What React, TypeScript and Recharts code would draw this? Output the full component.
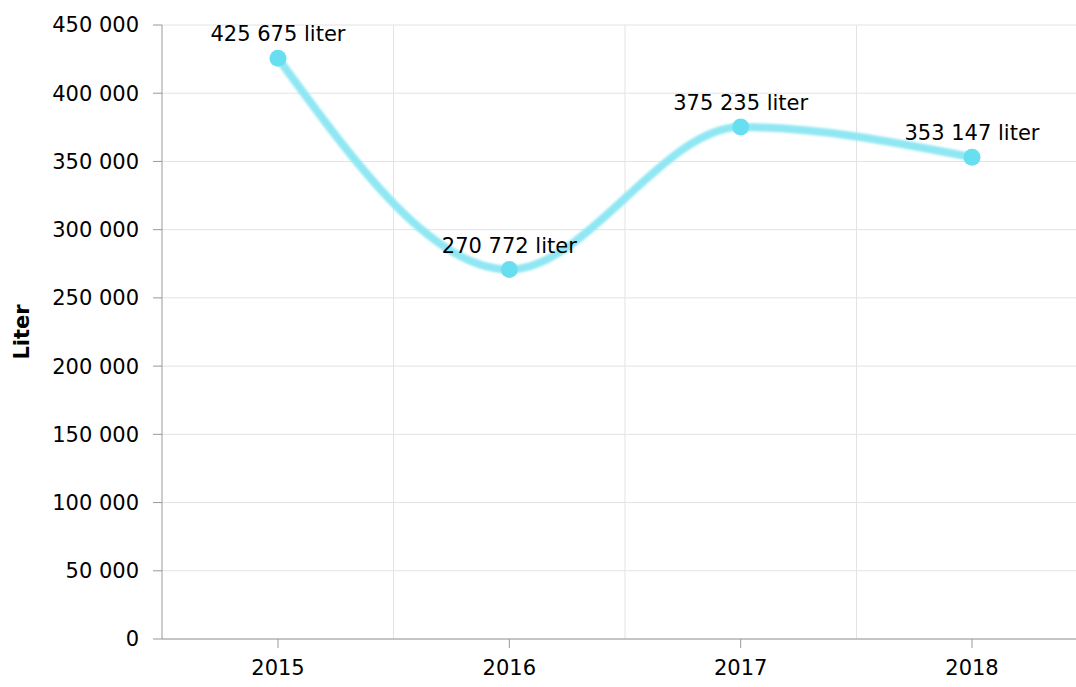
import { LineChart, Line, CartesianGrid, XAxis, YAxis, LabelList } from "recharts";

const years = ["2015", "2016", "2017", "2018"];
const liters = [425675, 270772, 375235, 353147];
const yTicks = [0, 50000, 100000, 150000, 200000, 250000, 300000, 350000, 400000, 450000];

const data = years.map((year, i) => ({ year, liters: liters[i] }));

const FONT = "'DejaVu Sans', Verdana, sans-serif";
const spaced = (n: number) => String(n).replace(/\B(?=(\d{3})+(?!\d))/g, " ");

function YTitle({ viewBox }: any) {
  const cy = viewBox.y + viewBox.height / 2;
  return (
    <text
      x={22}
      y={cy}
      transform={`rotate(-90, 22, ${cy})`}
      textAnchor="middle"
      dominantBaseline="central"
      fontFamily={FONT}
      fontSize={21}
      fontWeight="bold"
      fill="#000"
    >
      Liter
    </text>
  );
}

export default function App() {
  return (
    <div style={{ position: "absolute", left: 0, top: 0, width: 1076, height: 687, overflow: "hidden", background: "#fff" }}>
      <LineChart width={1100} height={687} data={data} margin={{ top: 25, right: 12, bottom: 0, left: 0 }}>
        <defs>
          <filter id="soft" x="-10%" y="-10%" width="120%" height="120%">
            <feGaussianBlur stdDeviation="1.3" />
          </filter>
        </defs>
        <CartesianGrid
          stroke="#e3e3e3"
          verticalCoordinatesGenerator={({ offset }: any) =>
            years.slice(1).map((_, i) => offset.left + ((i + 1) * offset.width) / years.length)
          }
        />
        <XAxis
          dataKey="year"
          height={48}
          padding={{ left: 116, right: 116 }}
          stroke="#999"
          tickSize={9}
          tickMargin={12}
          tick={{ fill: "#000", fontSize: 21, fontFamily: FONT }}
        />
        <YAxis
          width={162}
          domain={[0, 450000]}
          ticks={yTicks}
          interval={0}
          stroke="#999"
          tickSize={9}
          tickMargin={14}
          tickFormatter={spaced}
          tick={{ fill: "#000", fontSize: 21, fontFamily: FONT }}
          label={<YTitle />}
        />
        <Line
          type="monotone"
          dataKey="liters"
          stroke="#90e7f3"
          strokeWidth={8}
          filter="url(#soft)"
          dot={{ r: 8.5, fill: "#68dff0", stroke: "none", filter: "none" }}
          activeDot={false}
          isAnimationActive={false}
        >
          <LabelList
            dataKey="liters"
            position="top"
            offset={17}
            formatter={(v: any) => `${spaced(Number(v))} liter`}
            style={{ fill: "#000", fontSize: 21, fontFamily: FONT }}
          />
        </Line>
      </LineChart>
    </div>
  );
}
